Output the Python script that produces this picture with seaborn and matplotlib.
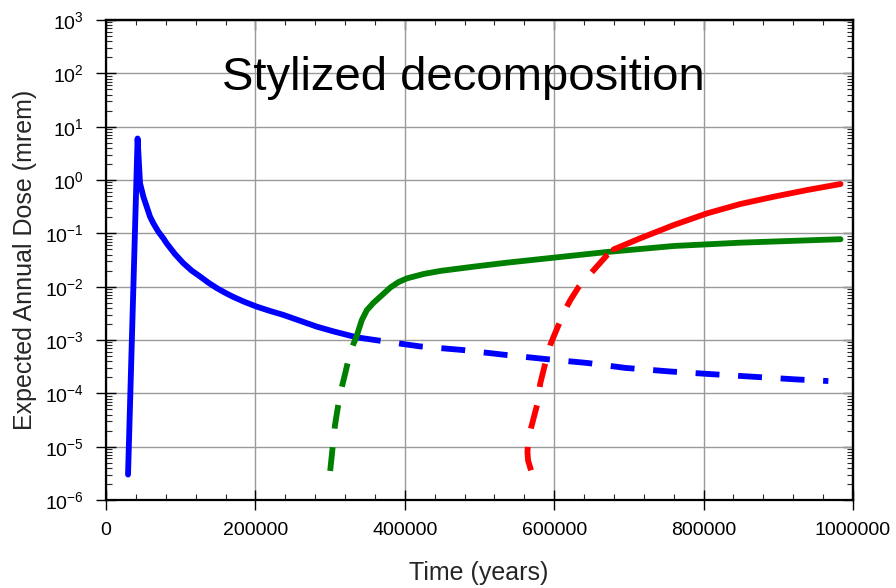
import numpy as np
import pandas as pd
import matplotlib
matplotlib.use("Agg")
import matplotlib.pyplot as plt
import seaborn as sns
from matplotlib.ticker import MultipleLocator, LogLocator, NullFormatter, FixedLocator

# ---------------- data ----------------
blue_solid_t = [29500, 42300, 45550, 47800, 50000, 54500, 58940, 63400, 70100, 76800,
                81300, 92400, 103600, 114700, 125900, 137000, 148300, 159400, 170600,
                186200, 201800, 219700, 237500, 259900, 282200, 304500, 335900]
blue_solid_dose = [3.0e-6, 6.0, 0.867, 0.649, 0.486, 0.316, 0.205, 0.154, 0.107, 0.0805,
                   0.0646, 0.0407, 0.0275, 0.0200, 0.0155, 0.0119, 0.0094, 0.0077, 0.0064,
                   0.00513, 0.00422, 0.0035, 0.00295, 0.00229, 0.00178, 0.00145, 0.00112]

blue_dash_t = [335900, 380000, 420000, 477000, 535000, 588000, 645000, 695000,
               755000, 810000, 868000, 925000, 967000]
blue_dash_dose = [1.12e-3, 9.1e-4, 7.6e-4, 6.5e-4, 5.25e-4, 4.4e-4, 3.7e-4, 3.0e-4,
                  2.57e-4, 2.29e-4, 2.04e-4, 1.82e-4, 1.70e-4]

green_dash_t = [300100, 303500, 306500, 310500, 314500, 320000, 326500, 331000, 335000]
green_dash_dose = [3.5e-6, 1.0e-5, 2.5e-5, 5.6e-5, 1.12e-4, 2.3e-4, 5.6e-4, 8.3e-4, 1.12e-3]

green_solid_t = [335000, 342500, 349200, 358200, 369300, 380500, 391600, 402800, 425200,
                 447400, 492000, 536800, 603700, 670700, 760000, 849300, 983300]
green_solid_dose = [1.12e-3, 2.37e-3, 3.63e-3, 5.0e-3, 6.9e-3, 9.6e-3, 1.22e-2, 1.43e-2,
                    1.73e-2, 1.97e-2, 2.37e-2, 2.82e-2, 3.55e-2, 4.47e-2, 5.79e-2,
                    6.68e-2, 7.76e-2]

red_dash_t = [569000, 565000, 564200, 565000, 569000, 577000, 581400, 590300, 594800,
              599200, 608200, 613000, 621600, 633000, 652800, 670700, 679600]
red_dash_dose = [3.6e-6, 5.5e-6, 8.0e-6, 1.2e-5, 2.24e-5, 6.0e-5, 1.55e-4, 4.9e-4, 8.1e-4,
                 1.15e-3, 2.29e-3, 3.31e-3, 5.6e-3, 1.0e-2, 2.04e-2, 3.9e-2, 5.0e-2]

red_solid_t = [679600, 715400, 760000, 804700, 849300, 893900, 938600, 983300]
red_solid_dose = [5.0e-2, 8.1e-2, 0.143, 0.237, 0.355, 0.486, 0.649, 0.841]

x_ticks = [0, 200000, 400000, 600000, 800000, 1000000]
x_tick_labels = ["0", "200000", "400000", "600000", "800000", "1000000"]
y_exponents = [-6, -5, -4, -3, -2, -1, 0, 1, 2, 3]

title_text = "Stylized decomposition"
x_label = "Time (years)"
y_label = "Expected Annual Dose (mrem)"

# ---------------- style ----------------
sns.set_style("ticks")
plt.rcParams['font.family'] = ['Liberation Sans', 'DejaVu Sans']
plt.rcParams['mathtext.fontset'] = 'custom'
plt.rcParams['mathtext.rm'] = 'Liberation Sans'
plt.rcParams['mathtext.it'] = 'Liberation Sans:italic'
plt.rcParams['mathtext.bf'] = 'Liberation Sans:bold'
plt.rcParams['axes.unicode_minus'] = False

fig = plt.figure(figsize=(8.96, 5.88), dpi=100)
ax = fig.add_axes([106 / 896, 88 / 588, 747 / 896, 480 / 588])
ax.set_yscale('log')

LW = 4.2
DASH = (0, (4.1, 3.2))
segments = [
    (blue_solid_t, blue_solid_dose, '#0000ff', '-'),
    (blue_dash_t, blue_dash_dose, '#0000ff', DASH),
    (green_dash_t, green_dash_dose, '#008000', DASH),
    (green_solid_t, green_solid_dose, '#008000', '-'),
    (red_dash_t, red_dash_dose, '#ff0000', DASH),
    (red_solid_t, red_solid_dose, '#ff0000', '-'),
]
for t, d, col, ls in segments:
    df = pd.DataFrame({'t': t, 'dose': d})
    sns.lineplot(data=df, x='t', y='dose', ax=ax, sort=False, estimator=None,
                 color=col, linewidth=LW, linestyle=ls,
                 dash_capstyle='butt', solid_capstyle='round',
                 solid_joinstyle='round', zorder=3)

ax.set_xlim(0, 1000000)
ax.set_ylim(1e-6, 1e3)

ax.set_xticks(x_ticks)
ax.set_xticklabels(x_tick_labels)
ax.xaxis.set_minor_locator(MultipleLocator(40000))

y_ticks = [10.0 ** k for k in y_exponents]
ax.set_yticks(y_ticks)
ax.set_yticklabels([r"$\mathregular{10^{%d}}$" % k for k in y_exponents])
ax.yaxis.set_minor_locator(LogLocator(base=10, subs=np.arange(2, 10), numticks=100))
ax.yaxis.set_minor_formatter(NullFormatter())

ax.tick_params(which='major', direction='inout', length=14.4, width=1.0,
               labelsize=14, pad=8.5, colors='black', top=False, right=False)
ax.tick_params(which='minor', direction='in', length=4.0, width=0.8,
               top=False, right=False)

for s in ax.spines.values():
    s.set_linewidth(1.6)
    s.set_color('black')

ax.grid(True, which='major', color='#9a9a9a', linewidth=1.0)
ax.set_axisbelow(True)

# top / right inward ticks
secx = ax.secondary_xaxis('top')
secx.xaxis.set_major_locator(FixedLocator(x_ticks))
secx.xaxis.set_major_formatter(NullFormatter())
secx.xaxis.set_minor_locator(MultipleLocator(40000))
secx.tick_params(which='major', direction='in', length=7.2, width=1.0)
secx.tick_params(which='minor', direction='in', length=3.6, width=0.8)
secx.spines['top'].set_linewidth(1.6)

secy = ax.secondary_yaxis('right')
secy.yaxis.set_major_locator(FixedLocator(y_ticks))
secy.yaxis.set_major_formatter(NullFormatter())
secy.yaxis.set_minor_locator(LogLocator(base=10, subs=np.arange(2, 10), numticks=100))
secy.yaxis.set_minor_formatter(NullFormatter())
secy.tick_params(which='major', direction='in', length=7.2, width=1.0)
secy.tick_params(which='minor', direction='in', length=4.0, width=0.8)
secy.spines['right'].set_linewidth(1.6)

ax.text(0.478, 0.854, title_text, transform=ax.transAxes, ha='center',
        va='baseline', fontsize=34, color='black', zorder=5)

ax.set_xlabel(x_label, fontsize=18)
ax.set_ylabel(y_label, fontsize=18)
ax.xaxis.set_label_coords(0.4987, -0.128)
ax.yaxis.set_label_coords(-0.0924, 0.5)

fig.savefig("out.png", dpi=100)
